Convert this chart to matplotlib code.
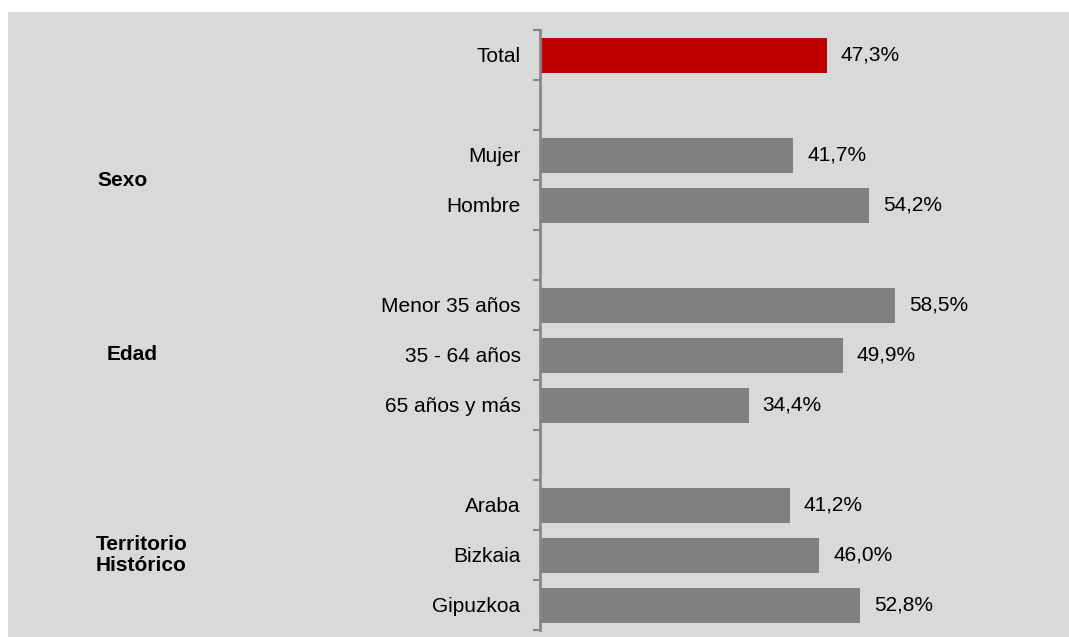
import numpy as np
import matplotlib
matplotlib.use("Agg")
import matplotlib.pyplot as plt
from matplotlib.patches import Rectangle
from matplotlib.transforms import blended_transform_factory

plt.rcParams["font.family"] = ["Liberation Sans", "DejaVu Sans"]

# rows from top to bottom; empty strings are spacer rows between groups
labels = ["Total", "", "Mujer", "Hombre", "", "Menor 35 años", "35 - 64 años",
          "65 años y más", "", "Araba", "Bizkaia", "Gipuzkoa"]
values = [47.3, None, 41.7, 54.2, None, 58.5, 49.9, 34.4, None, 41.2, 46.0, 52.8]
groups = ["Sexo", "Edad", "Territorio\nHistórico"]
group_rows = [2.5, 6, 10]

BG = "#d9d9d9"
RED = "#c00000"
GREY = "#808080"
AXIS = "#868686"

W, H = 1069, 637
fig = plt.figure(figsize=(W / 100, H / 100), dpi=100)
fig.patch.set_facecolor("white")
fig.patches.append(Rectangle((8 / W, 0), 1 - 8 / W, 1 - 12 / H,
                             transform=fig.transFigure, facecolor=BG,
                             edgecolor="none", zorder=-1))

ax = fig.add_axes([540 / W, 7 / H, (W - 540) / W, 600 / H])
ax.set_facecolor("none")

n = len(labels)
ypos = np.arange(n)
for i, v in enumerate(values):
    if v is None:
        continue
    ax.barh(i, v, height=0.7, color=RED if i == 0 else GREY, zorder=2)
    ax.annotate(f"{v:.1f}%".replace(".", ","), xy=(v, i), xytext=(10, 0),
                textcoords="offset points", va="center", ha="left",
                fontsize=15, color="#000000")

ax.set_xlim(0, (W - 540) / 6.07)
ax.set_ylim(n - 0.5, -0.5)

for side in ("top", "right", "bottom"):
    ax.spines[side].set_visible(False)
ax.spines["left"].set_color(AXIS)
ax.spines["left"].set_linewidth(2)
ax.set_xticks([])

ax.set_yticks(ypos)
ax.set_yticklabels(labels, fontsize=15)
ax.tick_params(axis="y", which="major", length=0, pad=14)
ax.set_yticks(np.arange(n + 1) - 0.5, minor=True)
ax.tick_params(axis="y", which="minor", length=5, width=1.5, color=AXIS)

# group captions sit in the left margin, x in figure pixels, y in row units
trans = blended_transform_factory(fig.transFigure, ax.transData)
for name, row, xpx in zip(groups, group_rows, [97, 107, 96]):
    ax.text(xpx / W, row, name, transform=trans, ha="left", va="center",
            fontsize=15, fontweight="bold", linespacing=1.15)

fig.savefig("out.png", dpi=100)
